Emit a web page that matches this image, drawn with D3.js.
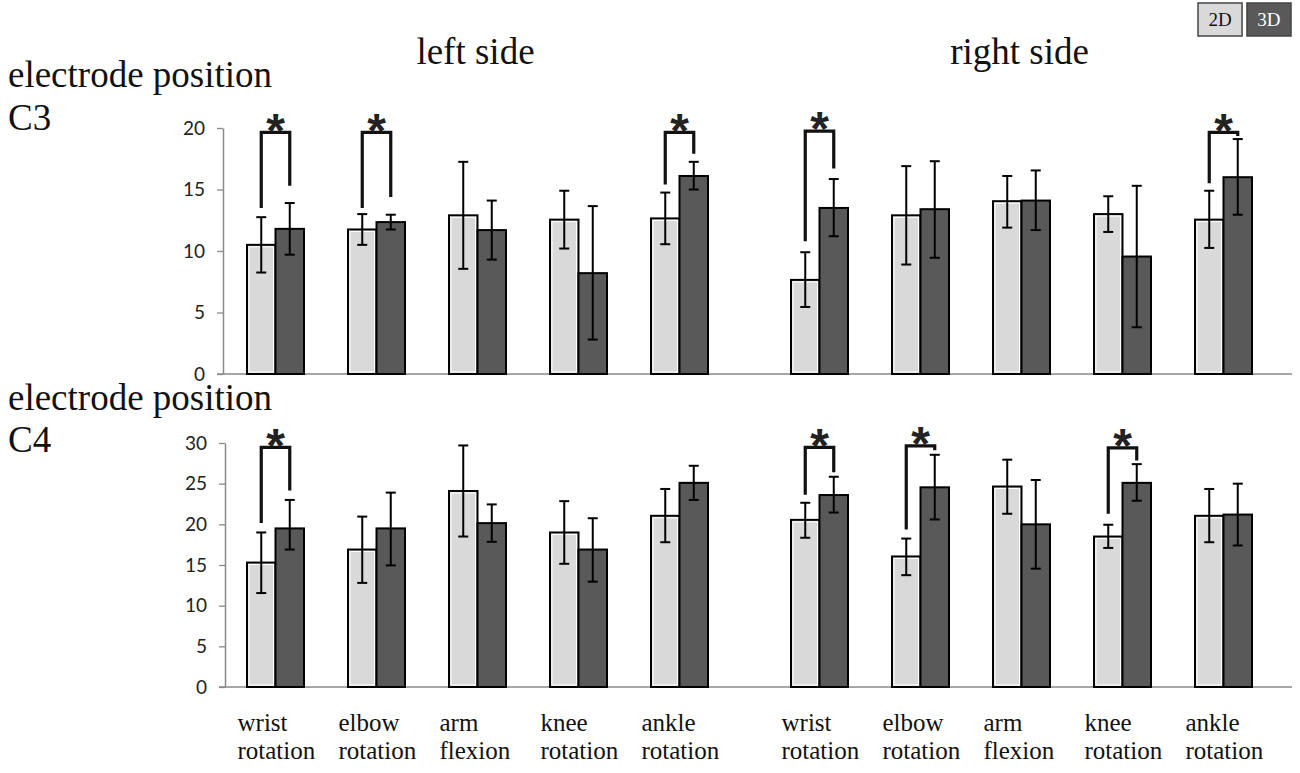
<!DOCTYPE html>
<html>
<head>
<meta charset="utf-8">
<script src="https://cdn.jsdelivr.net/npm/d3@7"></script>
<style>
  html, body { margin: 0; padding: 0; background: #fff; }
  svg { display: block; }
</style>
</head>
<body>
<svg id="chart" width="1300" height="773"></svg>
<script>
// ---------------- DATA ----------------
const categories = ["wrist rotation", "elbow rotation", "arm flexion", "knee rotation", "ankle rotation"];
const sides = ["left side", "right side"];
const conditions = ["2D", "3D"];
const ticksC3 = [0, 5, 10, 15, 20];
const ticksC4 = [0, 5, 10, 15, 20, 25, 30];

// Electrode C3
const c3Left2D   = [10.5, 11.75, 12.9, 12.55, 12.65];
const c3Left2DHi = [12.75, 13.0, 17.25, 14.9, 14.75];
const c3Left2DLo = [8.25, 10.5, 8.55, 10.2, 10.55];
const c3Left3D   = [11.8, 12.35, 11.7, 8.2, 16.1];
const c3Left3DHi = [13.9, 12.95, 14.1, 13.65, 17.25];
const c3Left3DLo = [9.7, 11.75, 9.3, 2.8, 15.0];
const c3Right2D   = [7.65, 12.9, 14.05, 13.0, 12.55];
const c3Right2DHi = [9.9, 16.9, 16.1, 14.45, 14.9];
const c3Right2DLo = [5.45, 8.9, 11.9, 11.55, 10.25];
const c3Right3D   = [13.5, 13.4, 14.1, 9.55, 16.0];
const c3Right3DHi = [15.85, 17.3, 16.55, 15.3, 19.1];
const c3Right3DLo = [11.2, 9.45, 11.7, 3.8, 12.95];

// Electrode C4
const c4Left2D   = [15.3, 16.9, 24.1, 19.0, 21.05];
const c4Left2DHi = [19.0, 20.95, 29.7, 22.85, 24.35];
const c4Left2DLo = [11.55, 12.8, 18.5, 15.15, 17.8];
const c4Left3D   = [19.5, 19.5, 20.15, 16.9, 25.1];
const c4Left3DHi = [23.0, 23.9, 22.45, 20.75, 27.2];
const c4Left3DLo = [16.9, 14.95, 17.85, 12.95, 23.0];
const c4Right2D   = [20.55, 16.05, 24.65, 18.5, 21.05];
const c4Right2DHi = [22.65, 18.25, 27.95, 19.95, 24.35];
const c4Right2DLo = [18.35, 13.75, 21.3, 17.1, 17.8];
const c4Right3D   = [23.6, 24.55, 20.0, 25.1, 21.2];
const c4Right3DHi = [25.85, 28.55, 25.45, 27.4, 25.0];
const c4Right3DLo = [21.45, 20.6, 14.55, 22.9, 17.4];

// Significance brackets: [side, category index, top, left leg end, right leg end]
const sigC3 = [
  [0, 0, 19.65, 13.5, 15.3],
  [0, 1, 19.65, 13.5, 14.4],
  [0, 4, 19.65, 15.4, 17.9],
  [1, 0, 19.75, 10.8, 16.7],
  [1, 4, 19.65, 15.5, 19.35]
];
const sigC4 = [
  [0, 0, 29.45, 20.15, 24.15],
  [1, 0, 29.45, 23.65, 26.4],
  [1, 1, 29.65, 19.35, 29.1],
  [1, 3, 29.4, 21.3, 27.85]
];

// ---------------- LAYOUT / STYLE ----------------
const fill = { "2D": "#d9d9d9", "3D": "#595959" };
const serif = "'Liberation Serif', 'Times New Roman', serif";
const sans = "Lato, 'Open Sans', sans-serif";

const svg = d3.select("#chart");

const xSide = [
  d3.scalePoint().domain(categories).range([275.5, 679.5]),
  d3.scalePoint().domain(categories).range([819.5, 1223.5])
];
const xCond = d3.scaleBand().domain(conditions).range([-28.5, 28.5]);

function buildRows(v2, h2, l2, v3, h3, l3, side) {
  const rows = [];
  categories.forEach((c, i) => {
    rows.push({ side, cat: c, cond: "2D", v: v2[i], hi: h2[i], lo: l2[i] });
    rows.push({ side, cat: c, cond: "3D", v: v3[i], hi: h3[i], lo: l3[i] });
  });
  return rows;
}

const panels = [
  {
    y: d3.scaleLinear().domain([0, 20]).range([374, 128]),
    axisX: 223, ticks: ticksC3, sig: sigC3,
    rows: buildRows(c3Left2D, c3Left2DHi, c3Left2DLo, c3Left3D, c3Left3DHi, c3Left3DLo, 0)
      .concat(buildRows(c3Right2D, c3Right2DHi, c3Right2DLo, c3Right3D, c3Right3DHi, c3Right3DLo, 1)),
    label: ["electrode position", "C3"], labelY: [87, 130]
  },
  {
    y: d3.scaleLinear().domain([0, 30]).range([687, 443]),
    axisX: 225, ticks: ticksC4, sig: sigC4,
    rows: buildRows(c4Left2D, c4Left2DHi, c4Left2DLo, c4Left3D, c4Left3DHi, c4Left3DLo, 0)
      .concat(buildRows(c4Right2D, c4Right2DHi, c4Right2DLo, c4Right3D, c4Right3DHi, c4Right3DLo, 1)),
    label: ["electrode position", "C4"], labelY: [410, 452]
  }
];

const barCenter = d => xSide[d.side](d.cat) + xCond(d.cond) + xCond.bandwidth() / 2;

panels.forEach(p => {
  const g = svg.append("g");
  const y = p.y;

  // y axis
  const ax = g.append("g")
    .attr("transform", `translate(${p.axisX},0)`)
    .call(d3.axisLeft(y).tickValues(p.ticks).tickSize(6).tickSizeOuter(0).tickPadding(12));
  ax.attr("font-size", null).attr("font-family", null);
  ax.select(".domain").attr("stroke", "#8a8a8a").attr("stroke-width", 1.5);
  ax.selectAll(".tick line").attr("stroke", "#8a8a8a").attr("stroke-width", 1.3);
  ax.selectAll(".tick text")
    .style("font-family", sans).style("font-size", "19px")
    .attr("fill", "#222");

  // baseline
  g.append("line")
    .attr("x1", p.axisX - 6).attr("x2", 1292)
    .attr("y1", y(0)).attr("y2", y(0))
    .attr("stroke", "#8a8a8a").attr("stroke-width", 1.5);

  // bars
  g.selectAll("rect.bar").data(p.rows).join("rect")
    .attr("class", "bar")
    .attr("x", d => xSide[d.side](d.cat) + xCond(d.cond))
    .attr("width", xCond.bandwidth())
    .attr("y", d => y(d.v))
    .attr("height", d => y(0) - y(d.v))
    .attr("fill", d => fill[d.cond])
    .attr("stroke", "#000")
    .attr("stroke-width", 2);

  // inner white edge on light bars
  g.selectAll("rect.inner").data(p.rows.filter(d => d.cond === "2D")).join("rect")
    .attr("class", "inner")
    .attr("x", d => xSide[d.side](d.cat) + xCond(d.cond) + 2)
    .attr("width", xCond.bandwidth() - 4)
    .attr("y", d => y(d.v) + 2)
    .attr("height", d => y(0) - y(d.v) - 4)
    .attr("fill", "none")
    .attr("stroke", "#fff")
    .attr("stroke-width", 1);

  // error bars
  const eg = g.selectAll("g.err").data(p.rows).join("g").attr("class", "err")
    .attr("stroke", "#000").attr("stroke-width", 2);
  eg.append("line")
    .attr("x1", barCenter).attr("x2", barCenter)
    .attr("y1", d => y(d.hi)).attr("y2", d => y(d.lo));
  eg.append("line")
    .attr("x1", d => barCenter(d) - 5).attr("x2", d => barCenter(d) + 5)
    .attr("y1", d => y(d.hi)).attr("y2", d => y(d.hi));
  eg.append("line")
    .attr("x1", d => barCenter(d) - 5).attr("x2", d => barCenter(d) + 5)
    .attr("y1", d => y(d.lo)).attr("y2", d => y(d.lo));

  // significance brackets
  p.sig.forEach(s => {
    const [side, ci, top, lEnd, rEnd] = s;
    const cat = categories[ci];
    const xl = xSide[side](cat) + xCond("2D") + xCond.bandwidth() / 2;
    const xr = xSide[side](cat) + xCond("3D") + xCond.bandwidth() / 2;
    const path = d3.path();
    path.moveTo(xl, y(lEnd));
    path.lineTo(xl, y(top));
    path.lineTo(xr, y(top));
    path.lineTo(xr, y(rEnd));
    g.append("path").attr("d", path.toString())
      .attr("fill", "none").attr("stroke", "#111").attr("stroke-width", 3.2)
      .attr("stroke-linejoin", "miter");
    g.append("text")
      .attr("x", (xl + xr) / 2)
      .attr("y", y(top) - 13 + 0.57 * 48)
      .attr("text-anchor", "middle")
      .attr("font-family", "'Liberation Sans', Arial, sans-serif")
      .attr("font-weight", "bold")
      .attr("font-size", 48)
      .attr("fill", "#222")
      .text("*");
  });

  // panel label
  g.selectAll("text.plabel").data(p.label).join("text")
    .attr("class", "plabel")
    .attr("x", 8)
    .attr("y", (d, i) => p.labelY[i])
    .attr("font-family", serif)
    .attr("font-size", 37)
    .attr("fill", "#111")
    .text(d => d);
});

// side titles
svg.selectAll("text.side").data(sides).join("text")
  .attr("class", "side")
  .attr("x", (d, i) => (xSide[i].range()[0] + xSide[i].range()[1]) / 2 - 2)
  .attr("y", 64)
  .attr("text-anchor", "middle")
  .attr("font-family", serif)
  .attr("font-size", 37)
  .attr("fill", "#111")
  .text(d => d);

// category labels
const catLabels = [];
[0, 1].forEach(side => categories.forEach(c => catLabels.push({ side, cat: c })));
const lab = svg.selectAll("text.cat").data(catLabels).join("text")
  .attr("class", "cat")
  .attr("font-family", serif)
  .attr("font-size", 25)
  .attr("fill", "#111");
lab.each(function (d) {
  const x = xSide[d.side](d.cat) - 38;
  const words = d.cat.split(" ");
  d3.select(this).selectAll("tspan").data(words).join("tspan")
    .attr("x", x)
    .attr("y", (w, i) => 731 + i * 28)
    .text(w => w);
});

// legend
const legX = d3.scaleBand().domain(conditions).range([1198, 1291]).paddingInner(0.1);
const leg = svg.selectAll("g.leg").data(conditions).join("g").attr("class", "leg");
leg.append("rect")
  .attr("x", d => legX(d)).attr("y", 3)
  .attr("width", legX.bandwidth()).attr("height", 33)
  .attr("fill", d => fill[d])
  .attr("stroke", "#444").attr("stroke-width", 1.5);
leg.append("text")
  .attr("x", d => legX(d) + legX.bandwidth() / 2)
  .attr("y", 26)
  .attr("text-anchor", "middle")
  .attr("font-family", serif)
  .attr("font-size", 19)
  .attr("fill", d => d === "2D" ? "#111" : "#fff")
  .text(d => d);
</script>
</body>
</html>
